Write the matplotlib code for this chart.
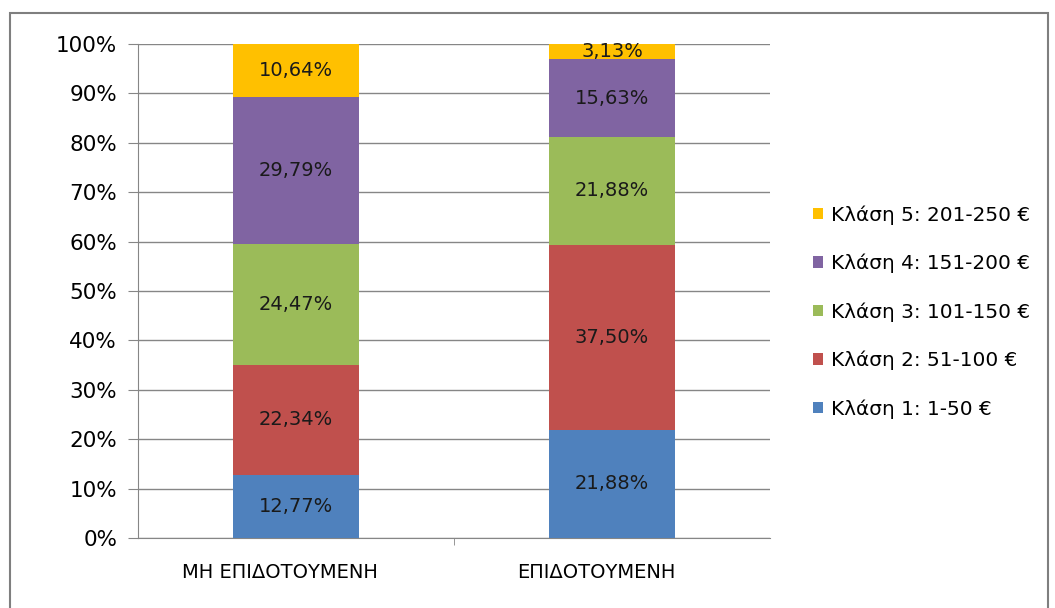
import numpy as np
import matplotlib.pyplot as plt
from matplotlib.patches import Rectangle

categories = ['ΜΗ ΕΠΙΔΟΤΟΥΜΕΝΗ', 'ΕΠΙΔΟΤΟΥΜΕΝΗ']
classes = ['Κλάση 1: 1-50 €', 'Κλάση 2: 51-100 €', 'Κλάση 3: 101-150 €',
           'Κλάση 4: 151-200 €', 'Κλάση 5: 201-250 €']
klasi1 = [12.77, 21.88]
klasi2 = [22.34, 37.50]
klasi3 = [24.47, 21.88]
klasi4 = [29.79, 15.63]
klasi5 = [10.64, 3.13]
colors = ['#4F81BD', '#C0504D', '#9BBB59', '#8064A2', '#FFC000']

series = [klasi1, klasi2, klasi3, klasi4, klasi5]

fig = plt.figure(figsize=(10.55, 6.08), dpi=100)
ax = fig.add_axes([138 / 1055, 1 - 538 / 608, 632 / 1055, 494 / 608])

x = np.arange(len(categories))
totals = np.sum(series, axis=0)
bottom = np.zeros(len(categories))
handles = []
for vals, name, col in zip(series, classes, colors):
    share = np.array(vals) / totals
    b = ax.bar(x, share, 0.4, bottom=bottom, color=col, label=name, zorder=3)
    handles.append(b)
    for xi, v, s, bt in zip(x, vals, share, bottom):
        ax.text(xi, bt + s / 2, f'{v:.2f}%'.replace('.', ','), ha='center', va='center',
                fontsize=14, color='#1a1a1a', zorder=4)
    bottom += share

ax.set_xlim(-0.5, 1.5)
ax.set_ylim(0, 1)
ax.set_yticks(np.arange(0, 1.01, 0.1))
ax.set_yticklabels([f'{int(round(t * 100))}%' for t in np.arange(0, 1.01, 0.1)], fontsize=15.5)
ax.set_xticks(x - 0.05)
ax.set_xticklabels(categories, fontsize=14)
ax.set_xticks([0.5], minor=True)
ax.tick_params(axis='x', which='major', length=0, pad=18)
ax.tick_params(axis='x', which='minor', length=5, color='#868686')
ax.tick_params(axis='y', length=7, color='#868686', pad=8)
ax.grid(axis='y', color='#868686', linewidth=1, zorder=0)
for side in ['top', 'right']:
    ax.spines[side].set_visible(False)
ax.spines['left'].set_color('#868686')
ax.spines['bottom'].set_color('#868686')

leg = fig.legend(handles[::-1], classes[::-1], loc='center left',
                 bbox_to_anchor=(795 / 1055, 1 - 312 / 608), frameon=False,
                 fontsize=14.4, labelspacing=1.45, handlelength=0.5,
                 handleheight=0.5, handletextpad=0.4)

# outer chart frame, its lower edge runs off the bottom
fig.patches.append(Rectangle((10 / 1055, -0.02), 1038 / 1055, 1 - 13 / 608 + 0.02,
                             transform=fig.transFigure, fill=False,
                             edgecolor='#7f7f7f', linewidth=1.5))

fig.savefig('out.png', dpi=100)
